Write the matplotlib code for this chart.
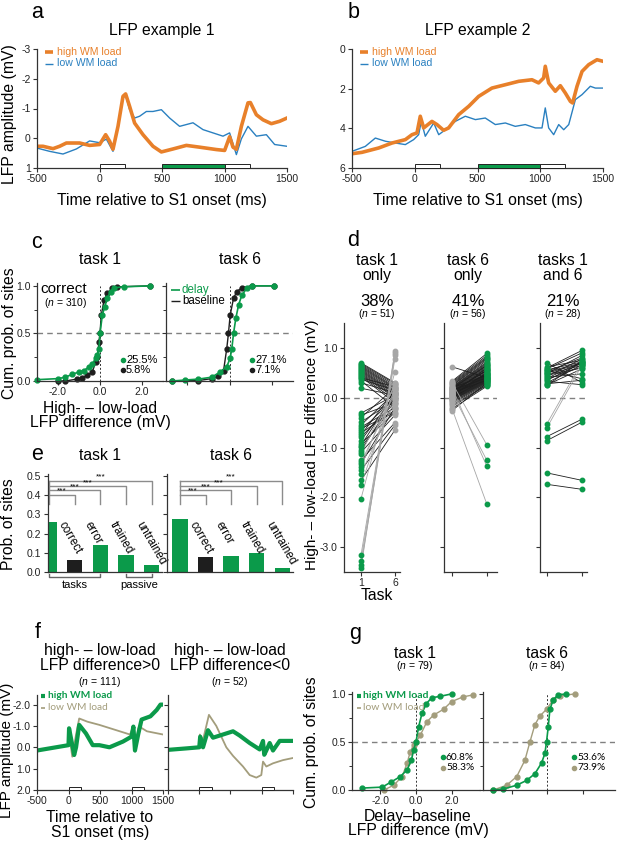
import matplotlib
matplotlib.use('Agg')
import matplotlib.pyplot as plt
from matplotlib.patches import Rectangle
from matplotlib.lines import Line2D

plt.rcParams['font.family'] = ['Liberation Sans', 'DejaVu Sans']
plt.rcParams['mathtext.fontset'] = 'custom'
plt.rcParams['mathtext.it'] = 'Liberation Sans:italic'
plt.rcParams['mathtext.rm'] = 'Liberation Sans'
plt.rcParams['axes.unicode_minus'] = False

GREEN = '#0b9a4a'
ORANGE = '#e8802a'
BLUE = '#2a80c0'
TAN = '#a39d7c'
GRAY = '#a6a6a6'
DARK = '#1e1e1e'
SMALLFONT = ['Lato', 'DejaVu Sans']
BIG = 11.3
TICK = 7.5

# ---- panel a : LFP example 1 (time in ms, amplitude in mV) ----
a_t_high = [-500, -452, -372, -319, -265, -159, -79, 1, 49, 81, 108, 148, 188, 209, 241, 281,
            348, 428, 495, 588, 695, 801, 935, 1001, 1041, 1068, 1095, 1135, 1188, 1207, 1255, 1308,
            1375, 1441, 1500]
a_high = [0.27, 0.27, 0.35, 0.27, 0.16, 0.16, 0.24, 0.21, -0.12, 0.1, 0.37, -0.4, -1.41, -1.49, -1.07, -0.51,
          -0.12, 0.27, 0.46, 0.36, 0.24, 0.3, 0.38, 0.41, -0.05, 0.3, 0.37, -0.4, -1.19, -1.2, -0.79, -0.62,
          -0.49, -0.57, -0.68]
a_t_low = [-500, -399, -292, -185, -79, 1, 55, 108, 148, 188, 209, 241, 281, 321, 375, 428,
           495, 561, 641, 748, 828, 908, 988, 1041, 1095, 1135, 1188, 1255, 1335, 1401, 1500]
a_low = [0.33, 0.44, 0.53, 0.36, 0.09, 0.15, 0.03, 0.44, -0.4, -1.35, -1.44, -0.96, -0.68, -0.74, -0.9, -0.9,
         -0.96, -0.68, -0.4, -0.52, -0.29, -0.18, -0.07, -0.18, 0.55, 0.02, -0.4, -0.07, -0.12, 0.21, 0.27]

# ---- panel b : LFP example 2 ----
b_t_high = [-500, -420, -287, -181, -75, -22, 18, 44, 71, 137, 177, 230, 270, 350, 430, 509,
            615, 722, 828, 934, 987, 1027, 1040, 1067, 1120, 1160, 1200, 1240, 1258, 1293, 1333, 1386,
            1452, 1500]
b_high = [5.28, 5.21, 4.99, 4.74, 4.57, 4.32, 4.23, 3.39, 3.98, 3.65, 3.81, 4.1, 3.98, 3.31, 2.89, 2.39,
          1.97, 1.8, 1.63, 1.55, 1.71, 1.46, 0.87, 1.71, 2.13, 1.85, 2.22, 2.64, 2.72, 1.88, 1.13, 0.79,
          0.54, 0.62]
b_t_low = [-500, -394, -314, -234, -155, -75, -9, 31, 52, 84, 151, 191, 244, 323, 403, 483,
           562, 642, 722, 801, 881, 961, 1014, 1040, 1067, 1107, 1147, 1187, 1227, 1280, 1333, 1399,
           1439, 1500]
b_low = [5.16, 4.91, 4.49, 4.65, 4.74, 4.82, 4.57, 4.32, 3.65, 4.4, 3.73, 4.32, 4.07, 3.65, 3.39, 3.56,
         3.48, 3.81, 3.73, 3.9, 3.81, 3.98, 3.98, 2.97, 3.98, 4.32, 3.81, 4.07, 3.81, 2.55, 2.3, 1.88,
         1.97, 1.97]

# ---- panel c : cumulative distributions, correct trials ----
c1_delay_x = [-3.0, -2.0, -1.65, -1.33, -1.0, -0.76, -0.52, -0.37, -0.2, -0.13, -0.05, 0.0, 0.11, 0.22, 0.35, 0.5, 0.67, 1.14, 2.4]
c1_delay_y = [0.014, 0.025, 0.04, 0.07, 0.095, 0.11, 0.15, 0.18, 0.24, 0.27, 0.34, 0.5, 0.69, 0.78, 0.87, 0.94, 0.98, 0.99, 1.0]
c1_base_x = [-2.0, -1.65, -1.1, -0.86, -0.6, -0.37, -0.2, -0.13, -0.05, 0.0, 0.06, 0.19, 0.35, 0.59, 0.83, 2.4]
c1_base_y = [0.0, 0.0, 0.02, 0.03, 0.06, 0.095, 0.2, 0.25, 0.41, 0.5, 0.69, 0.85, 0.92, 0.975, 0.99, 1.0]
c2_delay_x = [-2.7, -2.1, -1.47, -0.84, -0.44, -0.13, 0.03, 0.11, 0.19, 0.3, 0.43, 0.58, 0.82, 1.06, 2.08]
c2_delay_y = [0.0, 0.01, 0.02, 0.04, 0.095, 0.15, 0.24, 0.34, 0.5, 0.66, 0.8, 0.9, 0.975, 1.0, 1.0]
c2_base_x = [-2.7, -1.47, -0.84, -0.52, -0.28, -0.13, -0.05, 0.03, 0.19, 0.35, 0.58, 1.06, 2.08]
c2_base_y = [0.0, 0.005, 0.025, 0.05, 0.11, 0.34, 0.5, 0.69, 0.87, 0.94, 0.98, 1.0, 1.0]
c_pct = [('25.5%', '5.8%'), ('27.1%', '7.1%')]

# ---- panel d : paired high - low load differences (mV) ----
d1_task1 = [0.70, 0.68, 0.66, 0.64, 0.62, 0.60, 0.58, 0.56, 0.54, 0.52,
            0.50, 0.48, 0.46, 0.44, 0.42, 0.40, 0.37, 0.34, 0.30, 0.19,
            -0.31, -0.35, -0.40, -0.49, -0.55, -0.59, -0.62, -0.66, -0.71, -0.75,
            -0.79, -0.86, -0.92, -0.96, -0.99, -1.06, -1.10, -1.13, -1.26, -1.30,
            -1.33, -1.40, -1.46, -1.53, -1.66, -1.75, -2.03, -3.16, -3.27, -3.36, -3.42]
d1_task6 = [0.30, 0.28, 0.25, 0.22, 0.20, 0.18, 0.15, 0.12, 0.10, 0.08,
            0.05, 0.02, 0.00, -0.05, -0.10, 0.22, 0.15, -0.20, 0.10, 0.05,
            0.05, -0.10, 0.20, -0.05, 0.10, -0.20, -0.30, 0.00, -0.25, 0.15,
            -0.10, 0.05, -0.30, 0.10, -0.15, 0.00, -0.35, 0.25, -0.50, 0.10,
            -0.20, 0.30, -0.55, -0.05, -0.65, 0.20, 0.52, 0.90, 0.85, 0.78, 0.93]
d2_task1 = [0.62, 0.33, 0.31, 0.29, 0.27, 0.25, 0.24, 0.22, 0.21, 0.20,
            0.19, 0.18, 0.17, 0.16, 0.15, 0.14, 0.13, 0.12, 0.11, 0.10,
            0.09, 0.08, 0.07, 0.06, 0.05, 0.05, 0.04, 0.03, 0.02, 0.01,
            0.00, 0.00, -0.01, -0.02, -0.03, -0.04, -0.05, -0.06, -0.08, -0.10,
            -0.12, -0.15, -0.18, -0.22, -0.26, 0.10, 0.15, 0.20, 0.05, 0.12,
            0.08, 0.18, 0.30, 0.10, 0.20, -0.22]
d2_task6 = [0.40, 0.89, 0.85, 0.82, 0.80, 0.78, 0.75, 0.72, 0.70, 0.68,
            0.66, 0.64, 0.62, 0.60, 0.58, 0.56, 0.55, 0.54, 0.52, 0.50,
            0.49, 0.48, 0.47, 0.46, 0.45, 0.44, 0.43, 0.42, 0.41, 0.40,
            0.39, 0.38, 0.37, 0.36, 0.35, 0.34, 0.33, 0.32, 0.31, 0.30,
            0.28, 0.26, 0.25, 0.23, 0.30, 0.35, 0.40, 0.45, 0.50, 0.55,
            0.60, 0.65, -0.95, -1.26, -1.38, -2.14]
d3_task1 = [0.70, 0.62, 0.60, 0.58, 0.56, 0.55, 0.53, 0.52, 0.50, 0.49,
            0.47, 0.45, 0.43, 0.41, 0.39, 0.37, 0.35, 0.33, 0.30, 0.28,
            0.26, 0.25, -0.52, -0.60, -0.78, -0.86, -1.51, -1.74]
d3_task6 = [0.30, 0.75, 0.95, 0.90, 0.72, 0.38, 0.80, 0.70, 0.68, 0.85,
            0.65, 0.60, 0.78, 0.48, 0.72, 0.62, 0.70, 0.26, 0.66, 0.35,
            0.58, 0.74, 0.72, 0.66, -0.43, -0.49, -1.66, -1.84]
d_titles = ['task 1\nonly', 'task 6\nonly', 'tasks 1\nand 6']
d_pct = ['38%', '41%', '21%']
d_n = [51, 56, 28]

# ---- panel e : probability of sites ----
e_task1 = [0.26, 0.063, 0.14, 0.088, 0.038]
e_task6 = [0.275, 0.077, 0.083, 0.098, 0.022]
e_labels = ['correct', 'error', 'trained', 'untrained']

# ---- panel f : average LFP, sites with positive / negative difference ----
f1_t_high = [-500, -300, 0, 9, 90, 120, 170, 277, 385, 490, 650, 865, 1000, 1030, 1055, 1110, 1160, 1300, 1400, 1460, 1500]
f1_high = [0.15, 0.05, -0.1, -0.89, 0.36, 0.0, -1.05, -0.65, -0.1, -0.1, 0.0, -0.27, -0.5, -0.97, 0.15, -0.66, -1.3, -1.45, -1.75, -2.0, -2.0]
f1_t_low = [-500, -300, 0, 9, 60, 120, 170, 300, 490, 760, 975, 1030, 1060, 1110, 1135, 1245, 1500]
f1_low = [0.15, 0.05, -0.1, -0.65, 0.44, -0.6, -1.35, -1.2, -1.05, -0.8, -0.6, -0.97, 0.2, -0.9, -0.95, -0.75, -0.6]
f2_t_high = [-500, -200, 0, 15, 60, 140, 220, 327, 487, 540, 647, 807, 967, 1020, 1040, 1073, 1127, 1180, 1287, 1500]
f2_high = [0.12, 0.05, 0.0, -0.5, 0.0, -0.8, -0.45, -0.55, -0.7, -0.75, -0.55, -0.2, 0.1, -0.3, 0.35, 0.15, -0.2, 0.15, -0.3, -0.3]
f2_t_low = [-500, -200, 0, 10, 40, 113, 155, 273, 433, 540, 700, 807, 913, 993, 1020, 1073, 1180, 1340, 1500]
f2_low = [0.12, 0.05, 0.0, -0.6, -0.1, -1.0, -1.52, -1.0, 0.0, 0.4, 0.9, 1.3, 1.42, 1.3, 0.67, 0.9, 0.75, 0.6, 0.5]
f_titles = ['high- \u2013 low-load\nLFP difference>0', 'high- \u2013 low-load\nLFP difference<0']
f_n = [111, 52]

# ---- panel g : delay - baseline cumulative distributions ----
g1_high_x = [-3.02, -1.9, -1.43, -0.88, -0.5, -0.26, -0.13, 0.0, 0.15, 0.34, 0.58, 0.89, 1.36, 2.0]
g1_high_y = [0.02, 0.03, 0.08, 0.14, 0.21, 0.31, 0.42, 0.5, 0.66, 0.8, 0.9, 0.96, 0.975, 1.0]
g1_low_x = [-1.8, -1.25, -0.78, -0.5, -0.32, -0.13, 0.0, 0.24, 0.61, 0.99, 1.55, 2.0, 2.66, 3.22]
g1_low_y = [0.0, 0.05, 0.14, 0.28, 0.4, 0.47, 0.5, 0.57, 0.71, 0.78, 0.84, 0.92, 0.97, 0.99]
g2_high_x = [-3.02, -2.46, -1.71, -1.15, -0.69, -0.32, -0.13, -0.04, 0.06, 0.15, 0.34, 0.61, 1.08]
g2_high_y = [0.0, 0.01, 0.05, 0.1, 0.17, 0.28, 0.38, 0.5, 0.66, 0.84, 0.94, 0.99, 1.0]
g2_low_x = [-3.02, -2.27, -1.71, -1.25, -0.97, -0.69, -0.41, -0.04, 0.34, 0.71, 1.55]
g2_low_y = [0.0, 0.05, 0.14, 0.31, 0.5, 0.68, 0.77, 0.84, 0.94, 0.98, 1.0]
g_pct = [('60.8%', '58.3%'), ('53.6%', '73.9%')]
g_n = [79, 84]

W, H = 617, 842
fig = plt.figure(figsize=(W / 100, H / 100), dpi=100)


def add_ax(x0, y0, x1, y1):
    # rectangle given in pixels from the top-left corner
    return fig.add_axes([x0 / W, 1 - y1 / H, (x1 - x0) / W, (y1 - y0) / H])


def ftext(x, y, s, size=BIG, **kw):
    kw.setdefault('ha', 'center')
    kw.setdefault('va', 'center')
    fig.text(x / W, 1 - y / H, s, fontsize=size, **kw)


def fline(x0, x1, y, color, lw):
    fig.add_artist(Line2D([x0 / W, x1 / W], [1 - y / H, 1 - y / H], color=color, lw=lw,
                          solid_capstyle='butt'))


def fdot(x, y, color, ms=3.5):
    fig.add_artist(Line2D([x / W], [1 - y / H], marker='o', ms=ms, color=color, lw=0))


def style(ax, fs=TICK):
    for s in ['top', 'right']:
        ax.spines[s].set_visible(False)
    for s in ['left', 'bottom']:
        ax.spines[s].set_linewidth(0.9)
        ax.spines[s].set_color('#333333')
    ax.tick_params(direction='out', length=3, width=0.8, labelsize=fs, pad=1.5,
                   color='#333333', labelcolor='#222222')
    ax.tick_params(which='minor', length=2, width=0.7, color='#333333')
    ax.patch.set_alpha(0)


def stim(ax, ybase, h, green):
    if green:
        ax.add_patch(Rectangle((500, ybase - h), 500, h, fc=GREEN, ec='#222222', lw=0.7, zorder=5, clip_on=False))
    for t0 in [0, 1000]:
        ax.add_patch(Rectangle((t0, ybase - h), 200, h, fc='white', ec='#222222', lw=0.7, zorder=5, clip_on=False))


# ================= a, b =================
for rect, th, yh, tl, yl, ylim, yt, title, cx in [
        ((37, 49, 287, 168), a_t_high, a_high, a_t_low, a_low, (1, -3), [-3, -2, -1, 0, 1], 'LFP example 1', 162),
        ((352, 49, 603, 168), b_t_high, b_high, b_t_low, b_low, (6, 0), [0, 2, 4, 6], 'LFP example 2', 478)]:
    ax = add_ax(*rect)
    style(ax)
    ax.plot(tl, yl, color=BLUE, lw=1.0)
    ax.plot(th, yh, color=ORANGE, lw=2.6)
    ax.set_xlim(-500, 1500)
    ax.set_ylim(*ylim)
    ax.set_yticks(yt)
    ax.set_yticklabels([str(v) for v in yt])
    ax.set_xticks([-500, 0, 500, 1000, 1500])
    ax.set_xticklabels(['-500', '0', '500', '1000', '1500'])
    stim(ax, ylim[0], abs(ylim[0] - ylim[1]) * 0.034, True)
    ftext(cx, 30, title)
    ftext(cx, 200, 'Time relative to S1 onset (ms)')
    lx = rect[0] + 8
    fline(lx, lx + 8, 52, ORANGE, 2.6)
    ftext(lx + 12, 52, 'high WM load', 7.6, ha='left', color=ORANGE)
    fline(lx, lx + 8, 63.5, BLUE, 1.0)
    ftext(lx + 12, 63.5, 'low WM load', 7.6, ha='left', color=BLUE)

ftext(37, 13, 'a', 15.5)
ftext(354, 12, 'b', 15.5)
ftext(10, 114, 'LFP amplitude (mV)', rotation=90)

# ================= c =================
for k, (rect, dx, dy, bx, by) in enumerate([
        ((37, 283, 163, 381), c1_delay_x, c1_delay_y, c1_base_x, c1_base_y),
        ((166, 283, 293, 381), c2_delay_x, c2_delay_y, c2_base_x, c2_base_y)]):
    ax = add_ax(*rect)
    style(ax)
    ax.axhline(0.5, color='#808080', lw=1.0, dashes=(4, 3), zorder=0)
    ax.plot([0, 0], [0, 1.0], color='#333333', lw=0.7, dashes=(2, 2), zorder=0)
    ax.plot(bx, by, color=DARK, lw=1.0, marker='o', ms=3.5, clip_on=False)
    ax.plot(dx, dy, color=GREEN, lw=1.2, marker='o', ms=3.5, clip_on=False)
    ax.set_xlim(-3, 3)
    ax.set_ylim(0, 1.03)
    ax.set_xticks([-2, 0, 2])
    ax.set_yticks([0, 0.5, 1.0])
    ax.set_yticks([0.25, 0.75], minor=True)
    if k == 0:
        ax.set_xticklabels(['-2.0', '0.0', '2.0'])
        ax.set_yticklabels(['0.0', '0.5', '1.0'])
    else:
        ax.set_xticklabels([])
        ax.set_yticklabels([])
    px = rect[0] + 86
    fdot(px, 360, GREEN, 3)
    ftext(px + 3, 360, c_pct[k][0], 8, ha='left')
    fdot(px, 369.5, DARK, 3)
    ftext(px + 3, 369.5, c_pct[k][1], 8, ha='left')

ftext(37, 242, 'c', 15.5)
ftext(100, 260, 'task 1')
ftext(240, 260, 'task 6')
ftext(40, 289, 'correct', 11, ha='left')
ftext(44, 303, '($\\it{n}$ = 310)', 7.5, ha='left')
fline(171, 180, 290, GREEN, 1.2)
ftext(182, 290, 'delay', 8.3, ha='left', color=GREEN)
fline(171, 180, 301, DARK, 1.0)
ftext(182, 301, 'baseline', 8.3, ha='left')
ftext(10, 333, 'Cum. prob. of sites', rotation=90)
ftext(100, 408, 'High- \u2013 low-load')
ftext(100, 423, 'LFP difference (mV)')

# ================= d =================
d_sets = [(d1_task1, d1_task6, GREEN, GRAY), (d2_task1, d2_task6, GRAY, GREEN), (d3_task1, d3_task6, GREEN, GREEN)]
d_rects = [(344, 323, 400, 572), (444, 323, 497, 572), (540, 323, 587, 572)]
d_xlims = [(-0.5, 1.15), (-0.23, 1.29), (-0.2, 1.14)]
d_cx = [377, 468, 563]
for k in range(3):
    t1, t6, c1, c6 = d_sets[k]
    ax = add_ax(*d_rects[k])
    style(ax)
    ax.axhline(0, color='#808080', lw=1.0, dashes=(4, 3), zorder=0)
    for v1, v6 in zip(t1, t6):
        lc = GRAY if abs(v6 - v1) > 1.2 else DARK
        ax.plot([0, 1], [v1, v6], color=lc, lw=0.6, zorder=1)
    ax.plot([0] * len(t1), t1, 'o', color=c1, ms=3.2, zorder=3, clip_on=False)
    ax.plot([1] * len(t6), t6, 'o', color=c6, ms=3.2, zorder=3, clip_on=False)
    ax.set_xlim(*d_xlims[k])
    ax.set_ylim(-3.5, 1.5)
    ax.set_yticks([1, 0, -1, -2, -3])
    ax.set_xticks([0, 1])
    if k == 0:
        ax.set_yticklabels(['1.0', '0.0', '-1.0', '-2.0', '-3.0'])
        ax.set_xticklabels(['1', '6'])
    else:
        ax.set_yticklabels([])
        ax.set_xticklabels([])
    ftext(d_cx[k], 268, d_titles[k], linespacing=1.0)
    ftext(d_cx[k], 301, d_pct[k], 12)
    ftext(d_cx[k], 314, '($\\it{n}$ = %d)' % d_n[k], 7.5)

ftext(353, 240, 'd', 15.5)
ftext(312, 445, 'High- \u2013 low-load LFP difference (mV)', rotation=90, size=11)
ftext(377, 595, 'Task')

# ================= e =================
e_colors = [GREEN, DARK, GREEN, GREEN, GREEN]
e_levels = [0.403, 0.425, 0.446, 0.476]
for k, (rect, vals, xl) in enumerate([((47.7, 474, 162, 572), e_task1, (-0.05, 4.4)),
                                      ((166.7, 474, 293, 572), e_task6, (-0.52, 4.42))]):
    ax = add_ax(*rect)
    style(ax)
    ax.bar(range(5), vals, width=0.6, color=e_colors, zorder=2)
    ax.set_xlim(*xl)
    ax.set_ylim(0, 0.51)
    ax.set_xticks([])
    ax.set_yticks([0, 0.1, 0.2, 0.3, 0.4, 0.5])
    if k == 0:
        ax.set_yticklabels(['0.0', '0.1', '0.2', '0.3', '0.4', '0.5'])
    else:
        ax.set_yticklabels([])
    ax.plot([0, 0], [0.356, e_levels[-1]], color='#8c8c8c', lw=1.0, clip_on=False)
    for j, lev in enumerate(e_levels, start=1):
        ax.plot([0, j, j], [lev, lev, 0.356], color='#8c8c8c', lw=1.0, clip_on=False)
        ax.text(j / 2, lev + 0.002, '***', ha='center', va='bottom', fontsize=6)
    for i, lab in enumerate(e_labels):
        ax.text(i + 0.48, 0.26, lab, rotation=-60, rotation_mode='anchor',
                ha='left', va='center', fontsize=8.3)
    if k == 0:
        ax.plot([0, 0, 2, 2], [-0.012, -0.026, -0.026, -0.012], color='#666666', lw=1.0, clip_on=False)
        ax.text(1, -0.068, 'tasks', ha='center', va='center', fontsize=8)
        ax.plot([3, 3, 4, 4], [-0.012, -0.026, -0.026, -0.012], color='#666666', lw=1.0, clip_on=False)
        ax.text(3.5, -0.068, 'passive', ha='center', va='center', fontsize=8)

ftext(37, 454, 'e', 15.5)
ftext(100, 456, 'task 1')
ftext(231, 456, 'task 6')
ftext(9, 524, 'Prob. of sites', rotation=90)

# ================= f =================
for k, (rect, th, yh, tl, yl, cx) in enumerate([
        ((37, 695, 163, 790), f1_t_high, f1_high, f1_t_low, f1_low, 100),
        ((168, 695, 293, 790), f2_t_high, f2_high, f2_t_low, f2_low, 230)]):
    ax = add_ax(*rect)
    style(ax)
    ax.plot(tl, yl, color=TAN, lw=1.3)
    ax.plot(th, yh, color=GREEN, lw=3.0)
    ax.set_xlim(-500, 1500)
    ax.set_ylim(2.0, -2.45)
    ax.set_yticks([-2, -1, 0, 1, 2])
    ax.set_xticks([-500, 0, 500, 1000, 1500])
    if k == 0:
        ax.set_yticklabels(['-2.0', '-1.0', '0.0', '1.0', '2.0'])
        ax.set_xticklabels(['-500', '0', '500', '1000', '1500'])
    else:
        ax.set_yticklabels([])
        ax.set_xticklabels([])
    stim(ax, 2.0, 0.14, False)
    ftext(cx, 658, f_titles[k], linespacing=0.95)
    ftext(cx, 682, '($\\it{n}$ = %d)' % f_n[k], 7.5)

fline(41, 45, 696, GREEN, 3.0)
ftext(48, 696, 'high WM load', 7.3, ha='left', color=GREEN, family=SMALLFONT, fontweight='bold')
fline(41, 45, 707.5, TAN, 1.2)
ftext(48, 707.5, 'low WM load', 7.3, ha='left', color=TAN, family=SMALLFONT)
ftext(38, 633, 'f', 15.5)
ftext(7, 750, 'LFP amplitude (mV)', rotation=90, size=11)
ftext(100, 817, 'Time relative to')
ftext(100, 832, 'S1 onset (ms)')

# ================= g =================
for k, (rect, hx, hy, lx, ly, xl, cx) in enumerate([
        ((352, 692, 480, 790), g1_high_x, g1_high_y, g1_low_x, g1_low_y, (-3.6, 3.6), 415),
        ((483, 692, 615, 790), g2_high_x, g2_high_y, g2_low_x, g2_low_y, (-3.6, 3.8), 547)]):
    ax = add_ax(*rect)
    style(ax)
    ax.axhline(0.5, color='#808080', lw=1.0, dashes=(4, 3), zorder=0)
    ax.plot([0, 0], [0, 1.0], color='#333333', lw=0.7, dashes=(2, 2), zorder=0)
    ax.plot(lx, ly, color=TAN, lw=1.0, marker='o', ms=3.5, clip_on=False)
    ax.plot(hx, hy, color=GREEN, lw=1.2, marker='o', ms=3.5, clip_on=False)
    ax.set_xlim(*xl)
    ax.set_ylim(0, 1.02)
    ax.set_xticks([-2, 0, 2])
    ax.set_yticks([0, 0.5, 1.0])
    ax.set_yticks([0.25, 0.75], minor=True)
    if k == 0:
        ax.set_xticklabels(['-2.0', '0.0', '2.0'])
        ax.set_yticklabels(['0.0', '0.5', '1.0'])
    else:
        ax.set_xticklabels([])
        ax.set_yticklabels([])
    px = rect[0] + 91
    fdot(px, 757, GREEN, 3)
    ftext(px + 3, 757, g_pct[k][0], 7.3, ha='left', family=SMALLFONT)
    fdot(px, 767.5, TAN, 3)
    ftext(px + 3, 767.5, g_pct[k][1], 7.3, ha='left', family=SMALLFONT)
    ftext(cx, 653, 'task %d' % (1 if k == 0 else 6))
    ftext(cx, 666, '($\\it{n}$ = %d)' % g_n[k], 7.5)

fline(357, 361, 696, GREEN, 3.0)
ftext(363, 696, 'high WM load', 7.5, ha='left', color=GREEN, family=SMALLFONT, fontweight='bold')
fline(357, 361, 707.5, TAN, 1.2)
ftext(363, 707.5, 'low WM load', 7.5, ha='left', color=TAN, family=SMALLFONT)
ftext(355, 634, 'g', 15.5)
ftext(312, 742, 'Cum. prob. of sites', rotation=90)
ftext(418, 817, 'Delay\u2013baseline')
ftext(418, 831, 'LFP difference (mV)')

fig.savefig('out.png', dpi=100)
